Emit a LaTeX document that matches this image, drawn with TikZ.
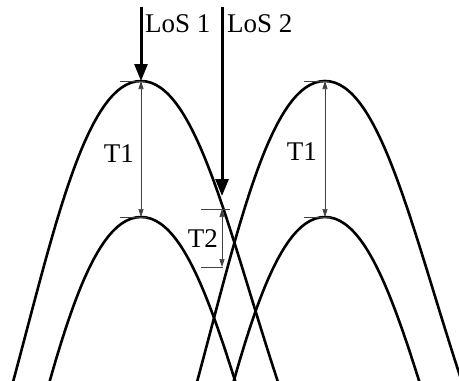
\documentclass[tikz,border=0pt]{standalone}
\usepackage{fontspec}
\setmainfont{Liberation Serif}
\usetikzlibrary{arrows.meta}

\begin{document}
\begin{tikzpicture}[x=1pt,y=-1pt,
  every node/.style={font=\fontsize{27}{29}\selectfont,inner sep=0pt},
  hump/.style={line width=2.6pt},
  losarrow/.style={line width=3pt,-{Triangle[length=17pt,width=13pt]}},
  dimline/.style={line width=0.7pt,black!75,{Triangle[length=8pt,width=5pt]}-{Triangle[length=8pt,width=5pt]}},
  tickline/.style={line width=0.7pt,black!75}]
  \useasboundingbox (0,0) rectangle (459,381);
  % crests: upper pair and the lower pair one T1 below
  \coordinate (peakL) at (141,81);
  \coordinate (peakR) at (325,81);
  \coordinate (lowL) at (141,217);
  \coordinate (lowR) at (325,217);
  \begin{scope}
    \clip (0,0) rectangle (459,381);
    \foreach \vx/\vy in {141/81,325/81,141/217,325/217}{
      \draw[hump,shift={(\vx,\vy)}] (-128,301) .. controls (-87.5,151) and (-55,0) .. (0,0)
        .. controls (55,0) and (87.5,151) .. (137,301);
    }
  \end{scope}
  % lines of sight
  \coordinate (los1) at (141,7);
  \coordinate (los2) at (222,7);
  \coordinate (hitL) at (222,196);
  \draw[losarrow] (los1) -- (peakL);
  \draw[losarrow] (los2) -- (hitL);
  \node[anchor=base west] (los1lbl) at (145,32) {LoS 1};
  \node[anchor=base west] (los2lbl) at (227,32) {LoS 2};
  % T1 on both crests
  \foreach \top/\bot in {peakL/lowL,peakR/lowR}{
    \draw[dimline] (\top) -- (\bot);
    \draw[tickline] ([xshift=-21pt]\top) -- ([xshift=4pt]\top);
    \draw[tickline] ([xshift=-21pt]\bot) -- ([xshift=6pt]\bot);
  }
  \node[anchor=base east] (t1L) at (134,162) {T1};
  \node[anchor=base east] (t1R) at (317,160) {T1};
  % T2 under LoS 2
  \coordinate (t2top) at (222,209);
  \coordinate (t2bot) at (222,267);
  \draw[dimline] (t2top) -- (t2bot);
  \draw[tickline] ([xshift=-21pt]t2top) -- ([xshift=8pt]t2top);
  \draw[tickline] ([xshift=-21pt]t2bot) -- ([xshift=1pt]t2bot);
  \node[anchor=base east] (t2) at (218,247) {T2};
\end{tikzpicture}
\end{document}
